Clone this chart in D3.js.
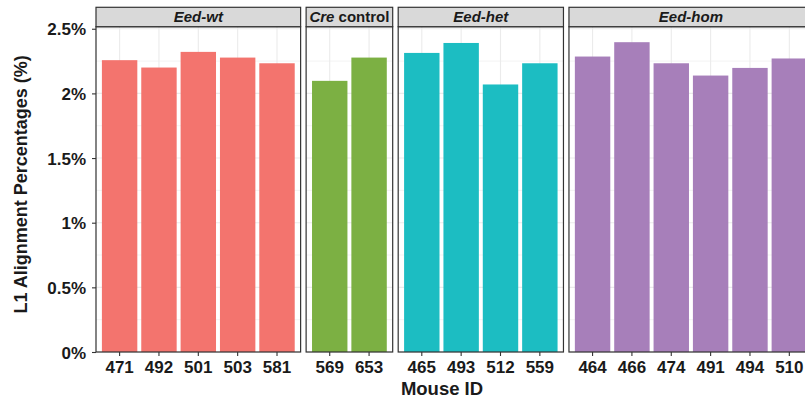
<!DOCTYPE html>
<html>
<head>
<meta charset="utf-8">
<script src="https://cdn.jsdelivr.net/npm/d3@7"></script>
<style>
  html, body { margin: 0; padding: 0; background: #ffffff; overflow: hidden; }
  svg { display: block; font-family: "Liberation Sans", Arial, sans-serif; }
</style>
</head>
<body>
<svg id="chart" width="805" height="403"></svg>
<script>
// L1 alignment percentage for each mouse, faceted by genotype
const groups = ["Eed-wt", "Cre control", "Eed-het", "Eed-hom"];
const groupColors = ["#F3746E", "#7CB043", "#1CBDC2", "#A77FBA"];
const mouseIds = ["471", "492", "501", "503", "581",
                  "569", "653",
                  "465", "493", "512", "559",
                  "464", "466", "474", "491", "494", "510"];
const mouseGroup = ["Eed-wt", "Eed-wt", "Eed-wt", "Eed-wt", "Eed-wt",
                    "Cre control", "Cre control",
                    "Eed-het", "Eed-het", "Eed-het", "Eed-het",
                    "Eed-hom", "Eed-hom", "Eed-hom", "Eed-hom", "Eed-hom", "Eed-hom"];
const l1Percent = [2.257, 2.200, 2.321, 2.277, 2.233,
                   2.097, 2.277,
                   2.313, 2.390, 2.069, 2.233,
                   2.285, 2.396, 2.233, 2.138, 2.197, 2.270];
const yTicks = [0, 0.5, 1, 1.5, 2, 2.5];
const yTickLabels = ["0%", "0.5%", "1%", "1.5%", "2%", "2.5%"];
const yMinorTicks = [0.25, 0.75, 1.25, 1.75, 2.25];

const W = 805, H = 403;
const svg = d3.select("#chart");

const plotLeft = 96;
const panelTop = 26.7, panelBottom = 352;
const stripTop = 7.3;
const panelGap = 5.5;
const unit = 39.35;          // width of one category slot
const expandUnits = 0.6;     // discrete expansion on each side

const rows = mouseIds.map((id, i) => ({ id, group: mouseGroup[i], value: l1Percent[i] }));

const y = d3.scaleLinear()
  .domain([0, d3.max(l1Percent) * 1.05])
  .range([panelBottom, panelTop]);

// Panel extents with free x space per facet
let cursor = plotLeft;
const panels = groups.map((g, gi) => {
  const ids = rows.filter(r => r.group === g).map(r => r.id);
  const width = (ids.length - 1 + 2 * expandUnits) * unit;
  const p = { group: g, color: groupColors[gi], ids, x0: cursor, x1: cursor + width };
  cursor += width + panelGap;
  p.x = d3.scaleBand().domain(ids).range([p.x0, p.x1])
    .paddingInner(0.1).paddingOuter(0.15);
  return p;
});

const gridColor = "#EBEBEB";
const borderColor = "#333333";
const textColor = "#1A1A1A";

panels.forEach(p => {
  const g = svg.append("g");
  const x = p.x;

  // minor and major horizontal grid
  g.selectAll(".minor").data(yMinorTicks).join("line")
    .attr("x1", p.x0).attr("x2", p.x1)
    .attr("y1", d => y(d)).attr("y2", d => y(d))
    .attr("stroke", gridColor).attr("stroke-width", 0.6);
  g.selectAll(".major").data(yTicks).join("line")
    .attr("x1", p.x0).attr("x2", p.x1)
    .attr("y1", d => y(d)).attr("y2", d => y(d))
    .attr("stroke", gridColor).attr("stroke-width", 1.1);
  // vertical grid at each mouse
  g.selectAll(".vgrid").data(p.ids).join("line")
    .attr("x1", d => x(d) + x.bandwidth() / 2).attr("x2", d => x(d) + x.bandwidth() / 2)
    .attr("y1", panelTop).attr("y2", panelBottom)
    .attr("stroke", gridColor).attr("stroke-width", 1.1);

  // bars
  g.selectAll("rect.bar").data(rows.filter(r => r.group === p.group)).join("rect")
    .attr("class", "bar")
    .attr("x", d => x(d.id))
    .attr("width", x.bandwidth())
    .attr("y", d => y(d.value))
    .attr("height", d => y(0) - y(d.value))
    .attr("fill", p.color);

  // panel border
  g.append("rect")
    .attr("x", p.x0).attr("y", panelTop)
    .attr("width", p.x1 - p.x0).attr("height", panelBottom - panelTop)
    .attr("fill", "none").attr("stroke", borderColor).attr("stroke-width", 1.2);

  // strip
  g.append("rect")
    .attr("x", p.x0).attr("y", stripTop)
    .attr("width", p.x1 - p.x0).attr("height", panelTop - stripTop)
    .attr("fill", "#D9D9D9").attr("stroke", borderColor).attr("stroke-width", 1.2);

  // keep the strip label inside the visible part of the strip
  const labelX = (p.x0 + Math.min(p.x1, W + 12)) / 2;
  const label = g.append("text")
    .attr("x", labelX).attr("y", 22.4)
    .attr("text-anchor", "middle")
    .attr("font-size", 15).attr("font-weight", "bold")
    .attr("fill", textColor);
  if (p.group === "Cre control") {
    label.append("tspan").attr("font-style", "italic").text("Cre");
    label.append("tspan").text(" control");
  } else {
    label.attr("font-style", "italic").text(p.group);
  }

  // x axis ticks and labels
  const xAxis = d3.axisBottom(x).tickSize(4).tickPadding(4);
  const ax = g.append("g").attr("transform", `translate(0,${panelBottom})`).call(xAxis);
  ax.select(".domain").remove();
  ax.selectAll(".tick line").attr("stroke", borderColor).attr("stroke-width", 1.1);
  ax.selectAll(".tick text")
    .attr("font-family", "Liberation Sans, Arial, sans-serif")
    .attr("font-size", 17).attr("font-weight", "bold")
    .attr("fill", textColor).attr("dy", "0.76em");
});

// y axis
const yAxis = d3.axisLeft(y).tickValues(yTicks)
  .tickFormat((d, i) => yTickLabels[i]).tickSize(4).tickPadding(6);
const ay = svg.append("g").attr("transform", `translate(${plotLeft},0)`).call(yAxis);
ay.select(".domain").remove();
ay.selectAll(".tick line").attr("stroke", borderColor).attr("stroke-width", 1.1);
ay.selectAll(".tick text")
  .attr("font-family", "Liberation Sans, Arial, sans-serif")
  .attr("font-size", 17).attr("font-weight", "bold")
  .attr("fill", textColor).attr("dy", "0.36em");

// axis titles
svg.append("text")
  .attr("x", 442).attr("y", 395)
  .attr("text-anchor", "middle")
  .attr("font-size", 18.5).attr("font-weight", "bold").attr("fill", textColor)
  .text("Mouse ID");

svg.append("text")
  .attr("transform", `translate(27,${(panelTop + panelBottom) / 2 - 5}) rotate(-90)`)
  .attr("text-anchor", "middle")
  .attr("font-size", 18).attr("font-weight", "bold").attr("fill", textColor)
  .text("L1 Alignment Percentages (%)");
</script>
</body>
</html>
